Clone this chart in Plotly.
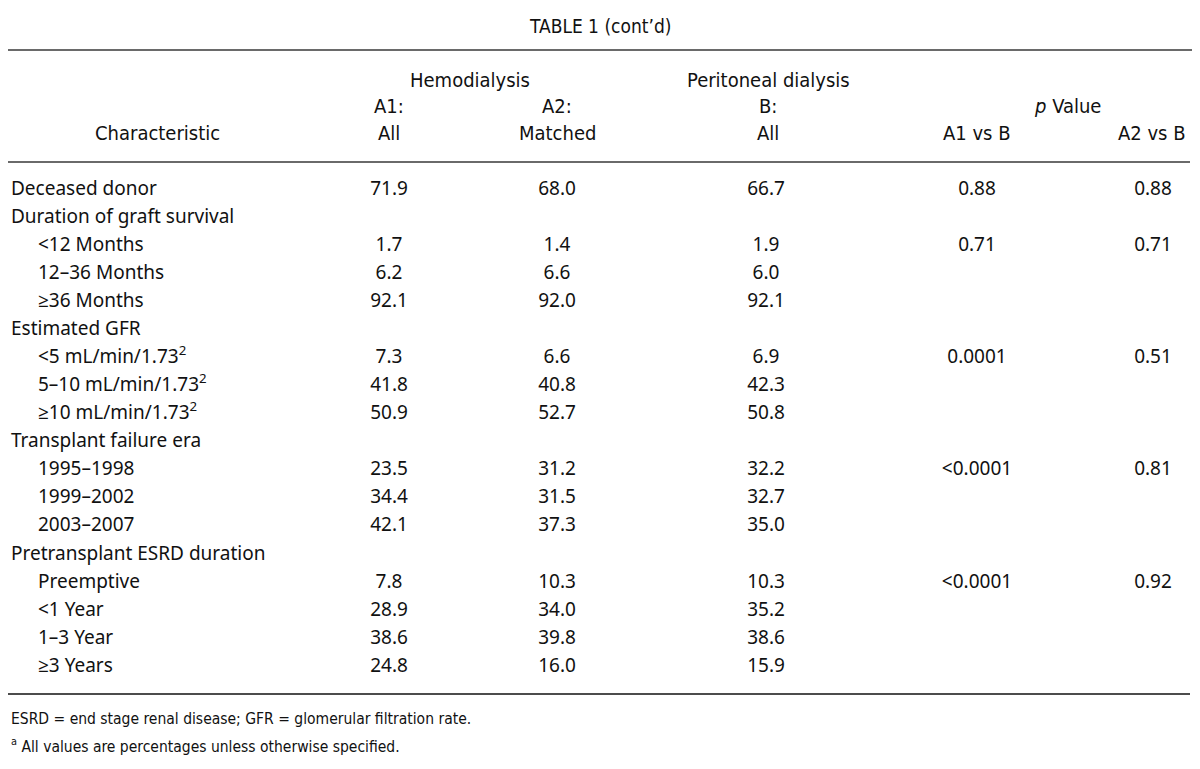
import plotly.graph_objects as go

# ---------------- data ----------------
title = "TABLE 1 (cont\u2019d)"
group_headers = ["Hemodialysis", "Peritoneal dialysis"]
col_headers_1 = ["A1:", "A2:", "B:", "<i>p</i> Value"]
col_headers_2 = ["Characteristic", "All", "Matched", "All", "A1 vs B", "A2 vs B"]

labels = [
    "Deceased donor",
    "Duration of graft survival",
    "<12 Months",
    "12\u201336 Months",
    "\u226536 Months",
    "Estimated GFR",
    "<5 mL/min/1.73\u00b2",
    "5\u201310 mL/min/1.73\u00b2",
    "\u226510 mL/min/1.73\u00b2",
    "Transplant failure era",
    "1995\u20131998",
    "1999\u20132002",
    "2003\u20132007",
    "Pretransplant ESRD duration",
    "Preemptive",
    "<1 Year",
    "1\u20133 Year",
    "\u22653 Years",
]
indent = [0, 0, 1, 1, 1, 0, 1, 1, 1, 0, 1, 1, 1, 0, 1, 1, 1, 1]

a1_all = [71.9, None, 1.7, 6.2, 92.1, None, 7.3, 41.8, 50.9, None, 23.5, 34.4, 42.1, None, 7.8, 28.9, 38.6, 24.8]
a2_matched = [68.0, None, 1.4, 6.6, 92.0, None, 6.6, 40.8, 52.7, None, 31.2, 31.5, 37.3, None, 10.3, 34.0, 39.8, 16.0]
b_all = [66.7, None, 1.9, 6.0, 92.1, None, 6.9, 42.3, 50.8, None, 32.2, 32.7, 35.0, None, 10.3, 35.2, 38.6, 15.9]
p_a1_vs_b = ["0.88", "", "0.71", "", "", "", "0.0001", "", "", "", "<0.0001", "", "", "", "<0.0001", "", "", ""]
p_a2_vs_b = ["0.88", "", "0.71", "", "", "", "0.51", "", "", "", "0.81", "", "", "", "0.92", "", "", ""]

footnotes = [
    "ESRD = end stage renal disease; GFR = glomerular filtration rate.",
    "<sup>a</sup> All values are percentages unless otherwise specified.",
]

# ---------------- layout / style ----------------
WIN_W, WIN_H, PAGE_MARGIN = 1200, 769, 8
W, H = WIN_W - 2 * PAGE_MARGIN, WIN_H - 2 * PAGE_MARGIN
BODY_FONT = "Noto Sans, Open Sans, DejaVu Sans"
HEAD_FONT = "DejaVu Sans Condensed, Noto Sans"
ROW_Y0, ROW_H = 190, 28.06
LABEL_X = [11, 38]
COL_X = [389, 557, 766, 977, 1153]
HEAD_Y = [80, 106, 133]


def esc(s):
    return s.replace("<", "&lt;") if s else s


def esc_sup(s):
    s = esc(s)
    return s.replace("\u00b2", "<sup>2</sup>")


def fmt(v):
    return "" if v is None else f"{v:.1f}"


rows_y = [ROW_Y0 + i * ROW_H for i in range(len(labels))]

fig = go.Figure()

# labels column
fig.add_trace(go.Scatter(
    x=[LABEL_X[k] for k in indent], y=rows_y, mode="text",
    text=[esc_sup(s) for s in labels], textposition="middle right",
    textfont=dict(family=BODY_FONT, size=19, color="#111111"),
    hoverinfo="skip", showlegend=False,
))

for cx, col in zip(COL_X, [
    [fmt(v) for v in a1_all],
    [fmt(v) for v in a2_matched],
    [fmt(v) for v in b_all],
    [esc(v) for v in p_a1_vs_b],
    [esc(v) for v in p_a2_vs_b],
]):
    keep = [i for i, t in enumerate(col) if t]
    fig.add_trace(go.Scatter(
        x=[cx] * len(keep), y=[rows_y[i] for i in keep], mode="text",
        text=[col[i] for i in keep],
        textposition="middle center",
        textfont=dict(family=BODY_FONT, size=19, color="#111111"),
        hoverinfo="skip", showlegend=False,
    ))

annots = []
hf = dict(family=HEAD_FONT, size=20, color="#111111")
annots.append(dict(x=600, y=26, text=title, xanchor="center", yanchor="middle",
                   font=dict(family=HEAD_FONT, size=19, color="#111111")))
annots.append(dict(x=470, y=HEAD_Y[0], text=group_headers[0], xanchor="center", yanchor="middle", font=hf))
annots.append(dict(x=768, y=HEAD_Y[0], text=group_headers[1], xanchor="center", yanchor="middle", font=hf))
for x, t in zip([389, 557, 768, 1067], col_headers_1):
    annots.append(dict(x=x, y=HEAD_Y[1], text=t, xanchor="center", yanchor="middle", font=hf))
for x, t in zip([157, 389, 557, 768, 977], col_headers_2[:5]):
    annots.append(dict(x=x, y=HEAD_Y[2], text=t, xanchor="center", yanchor="middle", font=hf))
annots.append(dict(x=1188, y=HEAD_Y[2], text=col_headers_2[5], xanchor="right", yanchor="middle", font=hf))
for i, t in enumerate(footnotes):
    annots.append(dict(x=9, y=719 + i * 26, text=t, xanchor="left", yanchor="middle",
                       font=dict(family=HEAD_FONT, size=15.5, color="#111111")))
for a in annots:
    a.update(xref="x", yref="y", showarrow=False)

shapes = [
    dict(type="line", xref="x", yref="y", x0=8, x1=1192, y0=50, y1=50, line=dict(color="#6a6a6a", width=2.2)),
    dict(type="line", xref="x", yref="y", x0=8, x1=1190, y0=162, y1=162, line=dict(color="#6a6a6a", width=2.2)),
    dict(type="line", xref="x", yref="y", x0=8, x1=1190, y0=694, y1=694, line=dict(color="#111111", width=1.5)),
]

# axes map page pixels (the page body has an 8px margin)
fig.update_layout(
    width=W, height=H, margin=dict(l=0, r=0, t=0, b=0),
    paper_bgcolor="white", plot_bgcolor="white",
    xaxis=dict(range=[PAGE_MARGIN, PAGE_MARGIN + W], visible=False, fixedrange=True),
    yaxis=dict(range=[PAGE_MARGIN + H, PAGE_MARGIN], visible=False, fixedrange=True),
    annotations=annots, shapes=shapes,
)

fig.write_html("out.html")
